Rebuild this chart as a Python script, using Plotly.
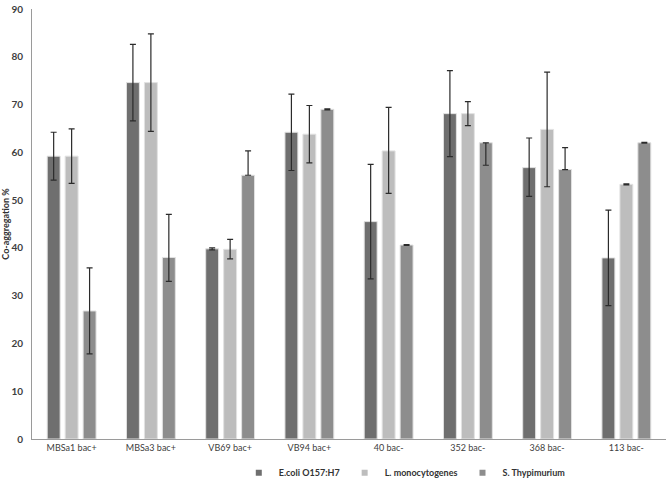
import plotly.graph_objects as go

categories = ["MBSa1 bac+", "MBSa3 bac+", "VB69 bac+", "VB94 bac+", "40 bac-", "352 bac-", "368 bac-", "113 bac-"]

ecoli = [59.2, 74.6, 39.8, 64.2, 45.5, 68.1, 56.8, 37.9]
ecoli_plus = [5.0, 8.0, 0.2, 8.0, 12.0, 9.0, 6.2, 10.0]
ecoli_minus = [5.0, 8.0, 0.2, 8.0, 12.0, 9.0, 6.0, 10.0]

lmono = [59.2, 74.6, 39.7, 63.8, 60.3, 68.1, 64.8, 53.3]
lmono_plus = [5.7, 10.2, 2.1, 6.0, 9.1, 2.5, 12.0, 0.1]
lmono_minus = [5.7, 10.2, 2.0, 6.0, 8.9, 2.5, 12.0, 0.1]

sthy = [26.8, 38.0, 55.2, 69.0, 40.6, 62.0, 56.4, 62.0]
sthy_plus = [9.0, 9.0, 5.1, 0.1, 0.1, 0.0, 4.6, 0.1]
sthy_minus = [9.0, 5.0, 0.0, 0.1, 0.1, 4.7, 0.0, 0.1]

series = [
    ("E.coli O157:H7", ecoli, ecoli_plus, ecoli_minus, "#6f6f6f"),
    ("L. monocytogenes", lmono, lmono_plus, lmono_minus, "#bdbdbd"),
    ("S. Thypimurium", sthy, sthy_plus, sthy_minus, "#8d8d8d"),
]

fig = go.Figure()
for name, vals, ep, em, col in series:
    fig.add_trace(go.Bar(
        name=name, x=categories, y=vals, showlegend=False, legendgroup=name,
        marker=dict(color=col, line=dict(color="#e2e2e2", width=1)),
        error_y=dict(type="data", symmetric=False, array=ep, arrayminus=em,
                     color="#2b2b2b", thickness=1.2, width=3),
    ))
# legend entries with small square swatches
for name, vals, ep, em, col in series:
    fig.add_trace(go.Scatter(
        name=name, x=[None], y=[None], mode="markers", legendgroup=name,
        marker=dict(symbol="square", size=6, color=col),
    ))

font_family = "Lato, 'Open Sans', sans-serif"
fig.update_layout(
    barmode="group",
    bargap=0.32,
    bargroupgap=0.28,
    width=666, height=482,
    margin=dict(l=32, r=0, t=9, b=43, autoexpand=False),
    paper_bgcolor="white",
    plot_bgcolor="white",
    font=dict(family=font_family, size=10, color="#404040"),
    showlegend=True,
    legend=dict(orientation="h", x=0.588, xanchor="center", y=-0.045, yanchor="top",
                font=dict(size=9, color="#333333", weight="bold"), itemwidth=30,
                tracegroupgap=0, traceorder="normal"),
    xaxis=dict(showline=True, linecolor="#9a9a9a", linewidth=1, ticks="",
               automargin=False,
               tickfont=dict(size=9, color="#404040"), showgrid=False),
    yaxis=dict(range=[0, 90], dtick=10, showline=True, linecolor="#9a9a9a", linewidth=1,
               showgrid=False, zeroline=False, ticks="", ticklabelstandoff=6,
               automargin=False,
               tickfont=dict(size=10, color="#404040", weight="bold"),
               title=dict(text="Co-aggregation %", font=dict(size=9, color="#303030", weight="bold"),
                          standoff=2)),
)

fig.write_html("out.html", config={"displayModeBar": False},
               post_script="document.body.style.margin='0';document.body.style.overflow='hidden';")
